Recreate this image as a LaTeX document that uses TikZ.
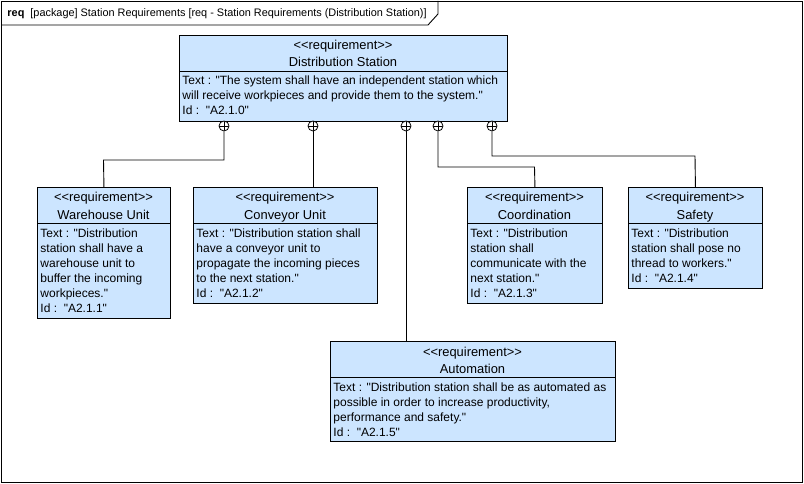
\documentclass[tikz,border=0pt]{standalone}
\usepackage{fontspec}
\setmainfont{Liberation Sans}[Ligatures=TeXOff]
\definecolor{reqblue}{RGB}{204,229,255}
\newcommand{\fsz}{\fontsize{12}{15}\selectfont}
\newcommand{\tsz}{\fontsize{12.9}{15}\selectfont}
\newcommand{\hsz}{\fontsize{10.9}{13}\selectfont}
\begin{document}
\begin{tikzpicture}[x=1pt,y=-1pt,font=\fsz,line width=0.9pt,
  reqbox/.style={draw=black, fill=reqblue, anchor=north west, inner sep=0, line width=0.9pt},
  lbl/.style={anchor=base, inner sep=0, font=\tsz},
  txt/.style={anchor=base west, inner sep=0},
  contain/.style={circle, draw=black, fill=white, minimum size=10pt, inner sep=0, line width=0.8pt,
    path picture={\draw[line width=0.8pt] (path picture bounding box.north) -- (path picture bounding box.south)
      (path picture bounding box.west) -- (path picture bounding box.east);}}]
\useasboundingbox (0,0) rectangle (804,484);
% frame
\draw (1,1) rectangle (802,482);
\draw (1,25) -- (428,25) -- (438,14) -- (438,1);
\node[txt, font=\hsz] (hdr) at (7,17) {\textbf{req}\hspace{6pt}[package] Station Requirements [req - Station Requirements (Distribution Station)]};

% Distribution Station
\node[reqbox, minimum width=328pt, minimum height=86pt] (ds) at (179,35) {};
\draw (179,71) -- (507,71);
\node[lbl] (ds1) at (343,50) {<<requirement>>};
\node[lbl] (ds2) at (343,67) {Distribution Station};
\node[txt] (ds3) at (182,85) {Text : "The system shall have an independent station which};
\node[txt] (ds4) at (182,100) {will receive workpieces and provide them to the system."};
\node[txt] (ds5) at (182,115) {Id :\ \ "A2.1.0"};

% Warehouse Unit
\node[reqbox, minimum width=133pt, minimum height=131pt] (wh) at (37,187) {};
\draw (37,223) -- (170,223);
\node[lbl] (wh1) at (103.5,202) {<<requirement>>};
\node[lbl] (wh2) at (103.5,219) {Warehouse Unit};
\node[txt] (wh3) at (40,237) {Text : "Distribution};
\node[txt] (wh4) at (40,252) {station shall have a};
\node[txt] (wh5) at (40,267) {warehouse unit to};
\node[txt] (wh6) at (40,282) {buffer the incoming};
\node[txt] (wh7) at (40,297) {workpieces."};
\node[txt] (wh8) at (40,312) {Id :\ \ "A2.1.1"};

% Conveyor Unit
\node[reqbox, minimum width=184pt, minimum height=116pt] (cv) at (193,187) {};
\draw (193,223) -- (377,223);
\node[lbl] (cv1) at (285,202) {<<requirement>>};
\node[lbl] (cv2) at (285,219) {Conveyor Unit};
\node[txt] (cv3) at (196,237) {Text : "Distribution station shall};
\node[txt] (cv4) at (196,252) {have a conveyor unit to};
\node[txt] (cv5) at (196,267) {propagate the incoming pieces};
\node[txt] (cv6) at (196,282) {to the next station."};
\node[txt] (cv7) at (196,297) {Id :\ \ "A2.1.2"};

% Coordination
\node[reqbox, minimum width=135pt, minimum height=116pt] (co) at (467,187) {};
\draw (467,223) -- (602,223);
\node[lbl] (co1) at (534.5,202) {<<requirement>>};
\node[lbl] (co2) at (534.5,219) {Coordination};
\node[txt] (co3) at (470,237) {Text : "Distribution};
\node[txt] (co4) at (470,252) {station shall};
\node[txt] (co5) at (470,267) {communicate with the};
\node[txt] (co6) at (470,282) {next station."};
\node[txt] (co7) at (470,297) {Id :\ \ "A2.1.3"};

% Safety
\node[reqbox, minimum width=134pt, minimum height=101pt] (sf) at (628,187) {};
\draw (628,223) -- (762,223);
\node[lbl] (sf1) at (695,202) {<<requirement>>};
\node[lbl] (sf2) at (695,219) {Safety};
\node[txt] (sf3) at (631,237) {Text : "Distribution};
\node[txt] (sf4) at (631,252) {station shall pose no};
\node[txt] (sf5) at (631,267) {thread to workers."};
\node[txt] (sf6) at (631,282) {Id :\ \ "A2.1.4"};

% Automation
\node[reqbox, minimum width=285pt, minimum height=100pt] (au) at (330,341) {};
\draw (330,377) -- (615,377);
\node[lbl] (au1) at (472.5,356) {<<requirement>>};
\node[lbl] (au2) at (472.5,373) {Automation};
\node[txt] (au3) at (333,391) {Text : "Distribution station shall be as automated as};
\node[txt] (au4) at (333,406) {possible in order to increase productivity,};
\node[txt] (au5) at (333,421) {performance and safety."};
\node[txt] (au6) at (333,436) {Id :\ \ "A2.1.5"};

% containment connectors
\coordinate (k1) at (103.5,160);
\coordinate (k2) at (313,187);
\coordinate (k3) at (406,341);
\coordinate (k4) at (534.5,167);
\coordinate (k5) at (695,156);
\node[contain] (c1) at (224,126) {};
\node[contain] (c2) at (313,126) {};
\node[contain] (c3) at (406,126) {};
\node[contain] (c4) at (438,126) {};
\node[contain] (c5) at (492,126) {};
\draw (c1.south) |- (k1) -- (wh.north);
\draw (c2.south) -- (k2);
\draw (c3.south) -- (k3);
\draw (c4.south) |- (k4) -- (co.north);
\draw (c5.south) |- (k5) -- (sf.north);
\end{tikzpicture}
\end{document}
